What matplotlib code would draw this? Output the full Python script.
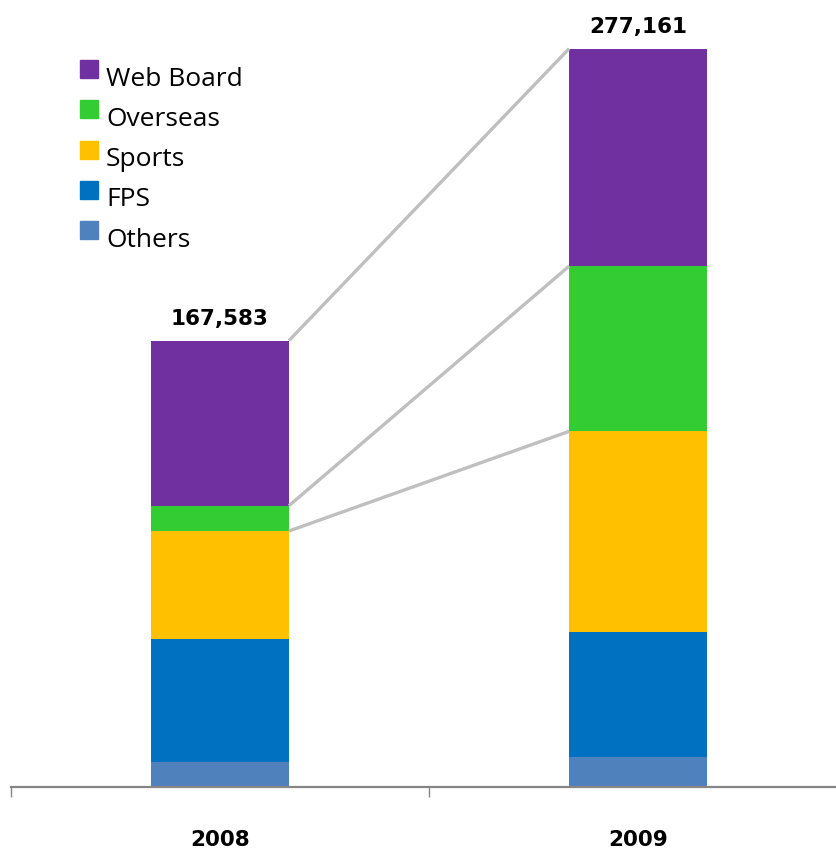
import matplotlib.pyplot as plt
from matplotlib.patches import Rectangle
import numpy as np

years = ["2008", "2009"]
segments = ["Others", "FPS", "Sports", "Overseas", "Web Board"]
others = [9200, 11300]
fps = [46200, 47000]
sports = [40700, 75200]
overseas = [9500, 62000]
web_board = [61983, 81661]

colors = {"Others": "#4F81BD", "FPS": "#0070C0", "Sports": "#FFC000",
          "Overseas": "#33CC33", "Web Board": "#7030A0"}

W, H = 836, 854
fig = plt.figure(figsize=(W / 100, H / 100), dpi=100)

# axes placed in pixels: baseline at y=788, category width 418 px
base_px = 788
cat_px = 418
left_px = 11
ax = fig.add_axes([left_px / W, (H - base_px) / H, 2 * cat_px / W, base_px / H])

units_per_px = 375.4
ax.set_ylim(0, base_px * units_per_px)
ax.set_xlim(-0.5, 1.5)

x = np.arange(len(years))
bw = 0.33
series = [others, fps, sports, overseas, web_board]
bottom = np.zeros(len(years))
tops = {}
for name, vals in zip(segments, series):
    vals = np.array(vals, dtype=float)
    ax.bar(x, vals, bw, bottom=bottom, color=colors[name], linewidth=0)
    bottom = bottom + vals
    tops[name] = bottom.copy()

totals = bottom
for xi, t in zip(x, totals):
    ax.annotate(f"{int(t):,}", (xi, t), xytext=(0, 9), textcoords="offset points",
                ha="center", va="bottom", fontsize=15.5, fontweight="bold")

# connector lines between the two stacks
for name in ["Web Board", "Overseas", "Sports"]:
    ax.plot([x[0] + bw / 2, x[1] - bw / 2], [tops[name][0], tops[name][1]],
            color="#BFBFBF", lw=2.4, solid_capstyle="butt", zorder=1)

for s in ["left", "right", "top"]:
    ax.spines[s].set_visible(False)
ax.spines["bottom"].set_color("#868686")
ax.spines["bottom"].set_linewidth(1.6)
ax.set_yticks([])
ax.set_xticks([-0.5, 0.5, 1.5])
ax.set_xticklabels([])
ax.tick_params(axis="x", direction="out", length=7.5, width=1.0, color="#868686")
for xi, yr in zip(x, years):
    ax.text(xi, -52 * units_per_px, yr, ha="center", va="center",
            fontsize=15.5, fontweight="bold")


# legend drawn in figure pixels
def fx(px):
    return px / W


def fy(py):
    return 1 - py / H


leg_order = ["Web Board", "Overseas", "Sports", "FPS", "Others"]
for i, name in enumerate(leg_order):
    top = 61 + i * 40.3
    fig.patches.append(Rectangle((fx(80), fy(top + 18)), 18 / W, 18 / H,
                                 transform=fig.transFigure, color=colors[name]))
    fig.text(fx(106), fy(top + 24.5), name, fontsize=19, family="Open Sans",
             va="baseline", ha="left")

fig.savefig("out.png", dpi=100)
